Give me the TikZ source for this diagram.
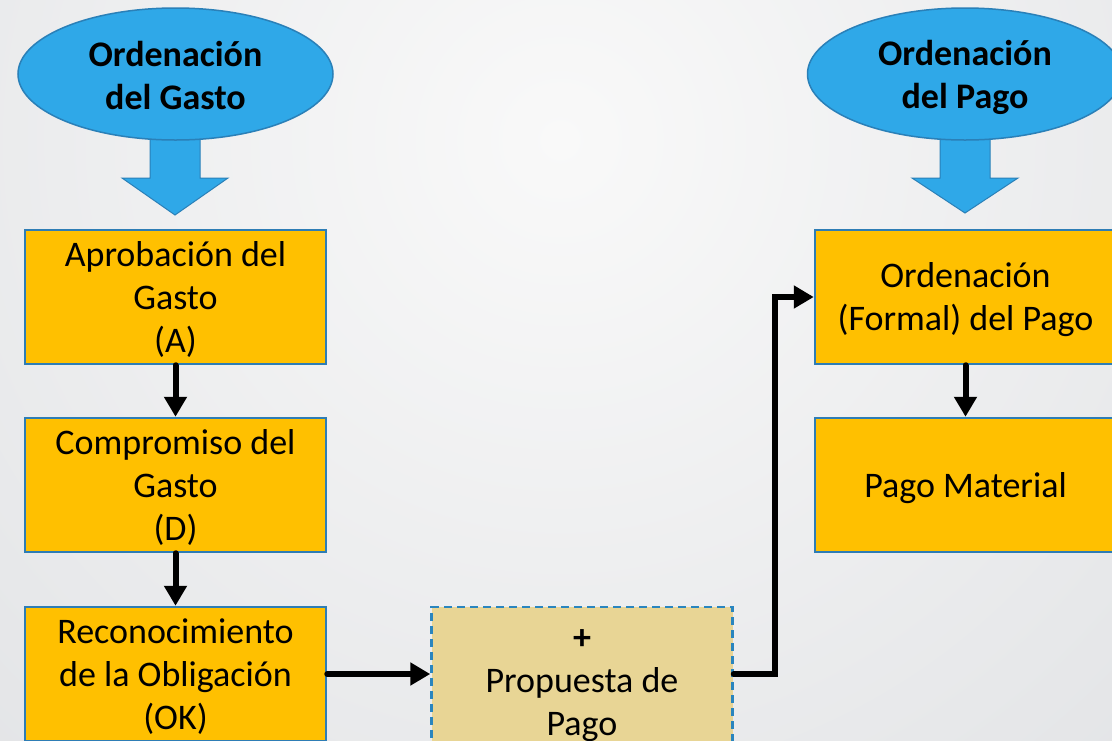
\documentclass[tikz,border=0pt]{standalone}
\usepackage{fontspec}
\setmainfont{Carlito}
\usetikzlibrary{arrows.meta,shapes.geometric}
\definecolor{bgin}{HTML}{F9F9F9}
\definecolor{bgout}{HTML}{C8CBD0}
\definecolor{ovalfill}{HTML}{2FA8E8}
\definecolor{ovalborder}{HTML}{2A80B8}
\definecolor{boxfill}{HTML}{FFC000}
\definecolor{boxborder}{HTML}{2E7DB5}
\definecolor{propfill}{HTML}{E8D595}
\definecolor{propborder}{HTML}{2A85BE}
\newcommand{\ts}{\rule[-7pt]{0pt}{38pt}}
\newcommand{\tso}{\rule[-5pt]{0pt}{38pt}}
\begin{document}
\begin{tikzpicture}[x=1pt,y=-1pt,
  oval/.style={ellipse, draw=ovalborder, line width=1.5pt, fill=ovalfill,
    minimum width=315pt, minimum height=132pt, inner sep=0pt, align=center,
    font=\bfseries\fontsize{36}{43}\selectfont},
  stepbox/.style={rectangle, draw=boxborder, line width=2.5pt, fill=boxfill,
    minimum width=301pt, minimum height=134pt, inner sep=0pt, align=center,
    font=\fontsize{36}{43}\selectfont},
  propbox/.style={stepbox, fill=propfill, draw=propborder,
    dash pattern=on 8pt off 5pt, minimum height=146pt},
  flow/.style={line width=6pt, line cap=round, line join=miter,
    -{Triangle[width=22pt,length=20pt]}},
  blockarrow/.style={fill=ovalfill, draw=ovalborder, line width=1pt}
]
\useasboundingbox (0,0) rectangle (1112,740);
\clip (0,0) rectangle (1112,740);
\shade[inner color=bgin, outer color=bgout] (560,140) circle (1900pt);

% block arrows
\draw[blockarrow] (150,135) -- (200,135) -- (200,178) -- (228,178) -- (175,215)
  -- (122,178) -- (150,178) -- cycle;
\draw[blockarrow] (940,135) -- (990,135) -- (990,178) -- (1018,178) -- (965,213)
  -- (912,178) -- (940,178) -- cycle;

% ovals
\node[oval] (og) at (175.5,74) {\tso Ordenación\\del Gasto\tso};
\node[oval] (op) at (965,74) {\tso Ordenación\\del Pago\tso};

% left column
\node[stepbox] (a) at (175.5,297) {\ts Aprobación del\\Gasto\\(A)\ts};
\node[stepbox] (d) at (175.5,485) {\ts Compromiso del\\Gasto\\(D)\ts};
\node[stepbox] (ok) at (175.5,674) {\ts Reconocimiento\\de la Obligación\\(OK)\ts};

% proposal
\node[propbox] (pp) at (582,680) {\ts\textbf{+}\\Propuesta de\\Pago\ts};

% right column
\node[stepbox] (of) at (965.5,297) {\ts Ordenación\\(Formal) del Pago\ts};
\node[stepbox] (pm) at (965.5,485) {\ts Pago Material\ts};

% connectors
\draw[flow] (a.south) -- (d.north);
\draw[flow] (d.south) -- (ok.north);
\draw[flow] (ok.east) -- (ok.east -| pp.west);
\draw[flow] (pp.east |- ok.east) -- ++(41,0) |- (of.west);
\draw[flow] (of.south) -- (pm.north);
\end{tikzpicture}
\end{document}
